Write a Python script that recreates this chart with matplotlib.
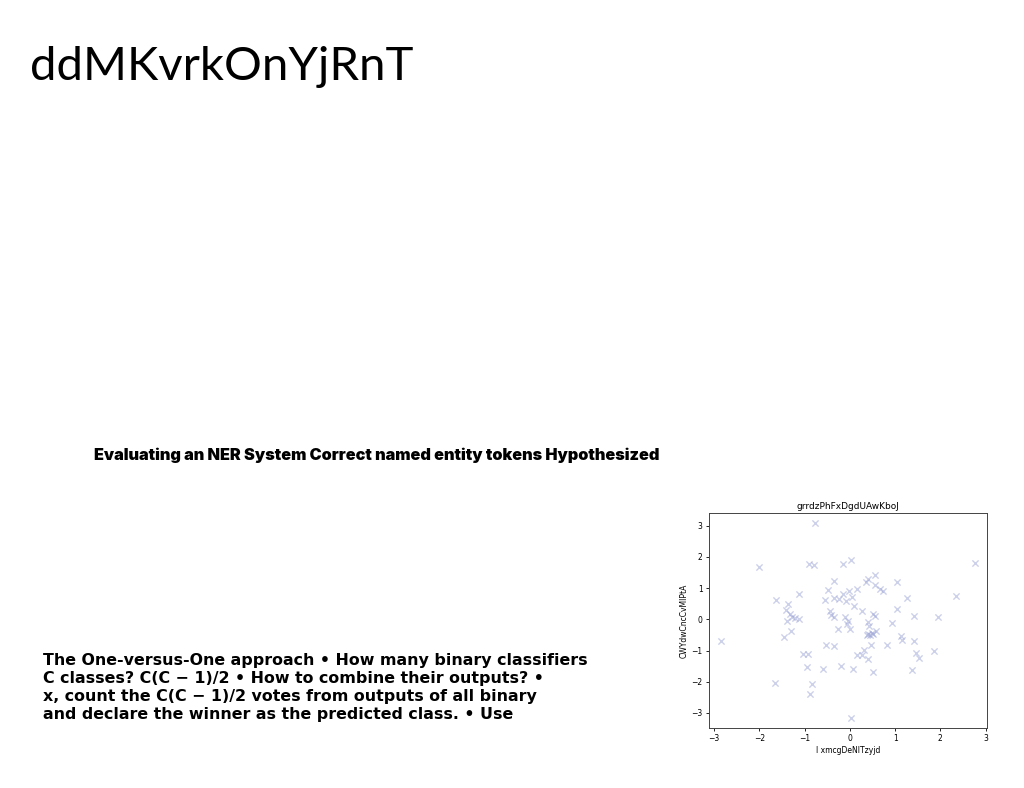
import matplotlib
matplotlib.use("Agg")
import matplotlib.pyplot as plt

title_text = "ddMKvrkOnYjRnT"
subtitle_text = "Evaluating an NER System Correct named entity tokens Hypothesized"
body_lines = [
    "The One-versus-One approach \u2022 How many binary classifiers",
    "C classes? C(C \u2212 1)/2 \u2022 How to combine their outputs? \u2022",
    "x, count the C(C \u2212 1)/2 votes from outputs of all binary",
    "and declare the winner as the predicted class. \u2022 Use",
]
chart_title = "grrdzPhFxDgdUAwKboJ"
x_label = "l xmcgDeNlTzyjd"
y_label = "CWYdwCncCvMIPtA"

x_vals = [-0.77, -2.01, -0.90, -0.80, -0.14, 0.02, 2.77, -1.64, -1.37, -1.13,
          -1.40, -1.31, -1.28, -1.22, -1.39, -1.13, -1.29, -1.45, -2.84, -1.03,
          -0.93, -0.95, -0.60, -1.65, -0.83, -0.87, -0.49, -0.35, -0.54, -0.34,
          -0.24, -0.16, -0.09, -0.01, 0.04, 0.16, -0.44, -0.41, -0.35, -0.10,
          -0.05, -0.07, -0.27, 0.00, 0.10, 0.28, 0.35, 0.41, 0.55, 0.55,
          0.66, 0.73, 0.52, 0.56, 0.41, 0.42, 0.40, 0.44, 0.52, 0.58,
          -0.53, -0.34, 0.46, 0.32, 0.15, 0.26, 0.41, -0.19, 0.07, 0.52,
          0.02, 1.05, 1.27, 1.05, 0.94, 1.42, 1.94, 2.35, 1.14, 1.15,
          1.41, 0.83, 1.46, 1.53, 1.86, 1.37, 0.38, 0.48]
y_vals = [3.08, 1.68, 1.77, 1.73, 1.77, 1.90, 1.80, 0.61, 0.50, 0.82,
          0.31, 0.18, 0.06, 0.04, -0.04, 0.01, -0.38, -0.58, -0.68, -1.10,
          -1.10, -1.52, -1.59, -2.04, -2.07, -2.38, 0.94, 1.21, 0.61, 0.68,
          0.64, 0.81, 0.60, 0.90, 0.72, 0.98, 0.28, 0.15, 0.06, 0.06,
          -0.06, -0.15, -0.30, -0.32, 0.41, 0.27, 1.20, 1.30, 1.41, 1.09,
          0.98, 0.90, 0.17, 0.11, -0.09, -0.20, -0.47, -0.51, -0.47, -0.36,
          -0.81, -0.86, -0.81, -0.98, -1.14, -1.14, -1.28, -1.48, -1.58, -1.69,
          -3.16, 1.20, 0.67, 0.32, -0.11, 0.09, 0.07, 0.76, -0.54, -0.67,
          -0.70, -0.83, -1.08, -1.23, -1.02, -1.61, -0.50, -0.45]

fig = plt.figure(figsize=(10.24, 7.88), dpi=100)
fig.patch.set_facecolor("white")

fig.text(30 / 1024, 1 - 80 / 788, title_text, fontsize=34, family="Lato",
         fontweight="normal", ha="left", va="baseline", color="black")
fig.text(94 / 1024, 1 - 455 / 788, subtitle_text, fontsize=11.7, family="Inter",
         fontweight=900, ha="left", va="center", color="black")
for i, line in enumerate(body_lines):
    fig.text(43 / 1024, 1 - (660 + 18 * i) / 788, line, fontsize=11.4,
             family="DejaVu Sans", fontweight="bold", ha="left", va="center",
             color="black")

ax = fig.add_axes([709 / 1024, 1 - 728 / 788, 278 / 1024, 215 / 788])
ax.scatter(x_vals, y_vals, marker="x", s=20, color="#9aa3d4", alpha=0.5,
           linewidths=1.0)
ax.set_xlim(-3.11, 3.03)
ax.set_ylim(-3.48, 3.40)
ax.set_xticks([-3, -2, -1, 0, 1, 2, 3])
ax.set_yticks([-3, -2, -1, 0, 1, 2, 3])
ax.tick_params(labelsize=5.5, length=2.5, width=0.6, pad=2)
ax.set_title(chart_title, fontsize=6.5, pad=3)
ax.set_xlabel(x_label, fontsize=5.5, labelpad=2)
ax.set_ylabel(y_label, fontsize=5.5, labelpad=2)
for sp in ax.spines.values():
    sp.set_linewidth(0.7)
    sp.set_color("#444444")

fig.savefig("out.png", dpi=100, facecolor="white")
